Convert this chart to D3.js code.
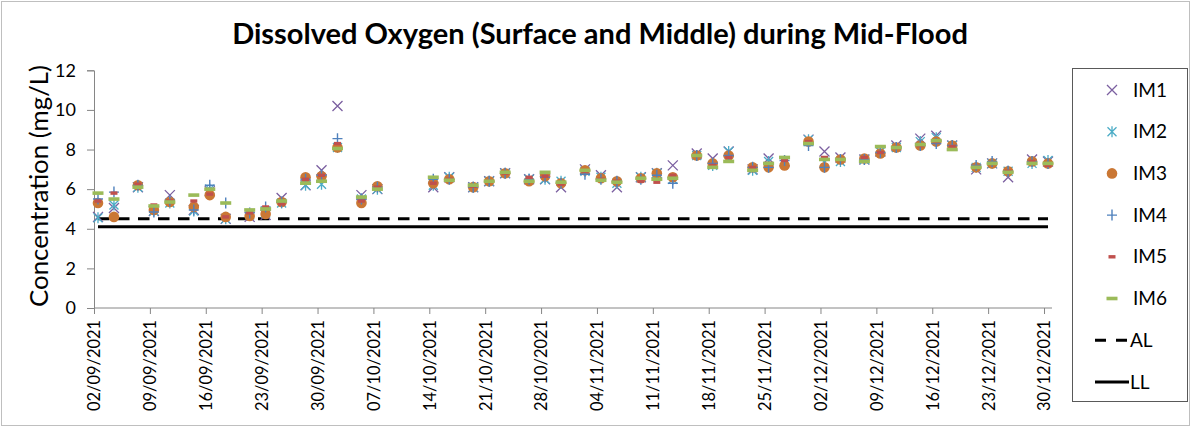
<!DOCTYPE html>
<html><head><meta charset="utf-8">
<script src="https://cdn.jsdelivr.net/npm/d3@7/dist/d3.min.js"></script>
<style>body{margin:0;background:#fff}svg{display:block}text{font-family:Lato,"Open Sans",sans-serif}</style>
</head><body><svg id="c" width="1192" height="428"></svg>
<script>
const dates = ["02/09/2021","04/09/2021","07/09/2021","09/09/2021","11/09/2021","14/09/2021","16/09/2021","18/09/2021","21/09/2021","23/09/2021","25/09/2021","28/09/2021","30/09/2021","02/10/2021","05/10/2021","07/10/2021","14/10/2021","16/10/2021","19/10/2021","21/10/2021","23/10/2021","26/10/2021","28/10/2021","30/10/2021","02/11/2021","04/11/2021","06/11/2021","09/11/2021","11/11/2021","13/11/2021","16/11/2021","18/11/2021","20/11/2021","23/11/2021","25/11/2021","27/11/2021","30/11/2021","02/12/2021","04/12/2021","07/12/2021","09/12/2021","11/12/2021","14/12/2021","16/12/2021","18/12/2021","21/12/2021","23/12/2021","25/12/2021","28/12/2021","30/12/2021"];
const IM1 = [4.6,5.05,6.1,4.9,5.7,4.95,5.9,4.5,4.6,4.7,5.55,6.2,6.95,10.2,5.7,6.0,6.1,6.6,6.1,6.4,6.8,6.5,6.5,6.1,7.0,6.7,6.1,6.6,6.8,7.2,7.8,7.55,7.9,7.0,7.55,7.4,8.5,7.9,7.6,7.5,7.9,8.2,8.55,8.7,8.2,7.0,7.3,6.6,7.5,7.4];
const IM2 = [4.55,5.2,6.1,4.9,5.3,4.9,6.0,4.5,4.7,4.8,5.3,6.2,6.25,8.1,5.5,6.0,6.2,6.6,6.1,6.4,6.8,6.5,6.5,6.4,6.9,6.6,6.3,6.6,6.8,6.5,7.7,7.2,7.9,6.95,7.4,7.4,8.5,7.35,7.4,7.5,7.9,8.1,8.4,8.6,8.2,7.1,7.3,6.9,7.3,7.45];
const IM3 = [5.3,4.6,6.2,4.95,5.35,5.1,5.7,4.6,4.65,4.75,5.35,6.6,6.65,8.1,5.3,6.15,6.3,6.5,6.1,6.4,6.8,6.4,6.65,6.3,6.95,6.55,6.4,6.55,6.8,6.6,7.7,7.3,7.7,7.1,7.1,7.2,8.4,7.1,7.5,7.55,7.8,8.1,8.2,8.4,8.2,7.1,7.3,6.9,7.4,7.3];
const IM4 = [5.5,5.85,6.2,4.85,5.4,4.95,6.2,5.3,4.8,5.1,5.35,6.5,6.7,8.55,5.5,6.1,6.5,6.5,6.1,6.4,6.8,6.5,6.6,6.3,6.75,6.5,6.4,6.5,6.7,6.3,7.7,7.3,7.7,7.1,7.1,7.45,8.2,7.1,7.5,7.5,7.85,8.1,8.2,8.3,8.2,7.2,7.4,6.9,7.4,7.3];
const IM5 = [5.4,5.8,6.25,5.2,5.4,5.4,5.75,4.6,4.8,5.1,5.25,6.5,6.7,8.3,5.4,6.1,6.3,6.5,6.15,6.4,6.8,6.6,6.65,6.25,6.9,6.5,6.4,6.4,6.35,6.7,7.7,7.2,7.6,7.1,7.3,7.45,8.4,7.6,7.5,7.6,7.85,8.1,8.2,8.4,8.15,7.1,7.3,6.9,7.4,7.2];
const IM6 = [5.8,5.5,6.1,5.15,5.35,5.7,6.0,5.3,4.95,5.0,5.4,6.3,6.4,8.05,5.6,6.0,6.6,6.45,6.2,6.4,6.85,6.4,6.85,6.35,6.95,6.45,6.35,6.55,6.5,6.55,7.7,7.1,7.4,6.95,7.3,7.6,8.3,7.5,7.5,7.4,8.15,8.1,8.25,8.45,8.0,7.1,7.3,6.85,7.3,7.3];
const AL = 4.5;
const LL = 4.1;
const yTicks = [0,2,4,6,8,10,12];
const xTickLabels = ["02/09/2021","09/09/2021","16/09/2021","23/09/2021","30/09/2021","07/10/2021","14/10/2021","21/10/2021","28/10/2021","04/11/2021","11/11/2021","18/11/2021","25/11/2021","02/12/2021","09/12/2021","16/12/2021","23/12/2021","30/12/2021"];
const seriesNames = ["IM1","IM2","IM3","IM4","IM5","IM6"];
const seriesVals = [IM1,IM2,IM3,IM4,IM5,IM6];
const colors = ["#7B5FA0","#4BACC6","#CA7734","#4F81BD","#C0504D","#9BBB59"];

const parse = d3.utcParse("%d/%m/%Y");
const DAY = 864e5;
const svg = d3.select("#c");
const L=94, R=1052, T=70.3, B=308;
const x = d3.scaleUtc().domain([parse("02/09/2021"), new Date(+parse("30/12/2021")+DAY)]).range([L,R]);
const y = d3.scaleLinear().domain([0,12]).range([B,T]);
const px = s => x(new Date(+parse(s)+DAY/2));

function fit(sel, w){ const n=sel.node(); const fs=parseFloat(sel.attr("font-size")); const l=n.getComputedTextLength(); sel.attr("font-size", fs*w/l); }

svg.append("rect").attr("x",1.5).attr("y",1.5).attr("width",1188).attr("height",424).attr("fill","none").attr("stroke","#bfbfbf");

const title = svg.append("text").attr("x",600).attr("y",44).attr("text-anchor","middle").attr("font-weight","bold").attr("font-size",26).attr("fill","#000").text("Dissolved Oxygen (Surface and Middle) during Mid-Flood");
fit(title,736);

const ya = svg.append("g").attr("transform",`translate(${L},0)`).call(d3.axisLeft(y).tickValues(yTicks).tickSize(7).tickPadding(11).tickFormat(d3.format("d")));
ya.select(".domain").attr("stroke","#868686");
ya.selectAll(".tick line").attr("stroke","#868686");
ya.selectAll(".tick text").attr("font-size",18).attr("fill","#000").style("font-family","Lato");

const xa = svg.append("g").attr("transform",`translate(0,${B})`).call(d3.axisBottom(x).tickValues(xTickLabels.map(parse)).tickSize(6).tickFormat(d3.utcFormat("%d/%m/%Y")));
xa.select(".domain").attr("stroke","#868686").attr("d",`M${L},0H${R}`);
xa.selectAll(".tick line").attr("stroke","#868686");
xa.selectAll(".tick text").attr("font-size",17).attr("fill","#000").style("font-family","Lato")
  .attr("transform","rotate(-90)").attr("text-anchor","end").attr("x",-12).attr("y",0).attr("dy","0.36em");
xa.selectAll(".tick text").each(function(){ fit(d3.select(this),91); });

const yl = svg.append("text").attr("transform","translate(39,186) rotate(-90)").attr("text-anchor","middle").attr("dy","0.35em").attr("font-size",22).attr("fill","#000").text("Concentration (mg/L)");
fit(yl,242);

const xs = dates.map(px);
const line = d3.line().x(d=>d[0]).y(d=>d[1]);
svg.append("path").attr("d",line(xs.map(v=>[v,y(AL)]))).attr("stroke","#000").attr("stroke-width",3).attr("stroke-dasharray","11.5,8.5").attr("fill","none");
svg.append("path").attr("d",line(xs.map(v=>[v,y(LL)]))).attr("stroke","#000").attr("stroke-width",3).attr("fill","none");

function marker(g, i, cx, cy){
  const c = colors[i];
  if(i===0){ g.append("path").attr("d",`M${cx-5},${cy-5}L${cx+5},${cy+5}M${cx-5},${cy+5}L${cx+5},${cy-5}`).attr("stroke",c).attr("stroke-width",1.3); }
  else if(i===1){ g.append("path").attr("d",`M${cx-4.5},${cy-4.5}L${cx+4.5},${cy+4.5}M${cx-4.5},${cy+4.5}L${cx+4.5},${cy-4.5}M${cx},${cy-5.5}L${cx},${cy+5.5}`).attr("stroke",c).attr("stroke-width",1.3); }
  else if(i===2){ g.append("circle").attr("cx",cx).attr("cy",cy).attr("r",5.3).attr("fill",c); }
  else if(i===3){ g.append("path").attr("d",`M${cx-5},${cy}L${cx+5},${cy}M${cx},${cy-5.5}L${cx},${cy+5.5}`).attr("stroke",c).attr("stroke-width",1.4); }
  else if(i===4){ g.append("rect").attr("x",cx-3.5).attr("y",cy-1.7).attr("width",7).attr("height",3.4).attr("fill",c); }
  else { g.append("rect").attr("x",cx-5.5).attr("y",cy-1.8).attr("width",11).attr("height",3.6).attr("fill",c); }
}
const mg = svg.append("g");
seriesVals.forEach((vals,i)=>{
  const g = mg.append("g");
  vals.forEach((v,j)=> marker(g,i,px(dates[j]),y(v)));
});

const lg = svg.append("g");
lg.append("rect").attr("x",1072.5).attr("y",68.5).attr("width",115).attr("height",333).attr("fill","#fff").attr("stroke","#595959");
const ly = d3.range(8).map(k=>90+k*41.7);
seriesNames.forEach((n,i)=>{
  marker(lg,i,1112,ly[i]);
  lg.append("text").attr("x",1133).attr("y",ly[i]).attr("dy","0.35em").attr("font-size",19).attr("fill","#000").text(n);
});
lg.append("line").attr("x1",1095).attr("x2",1127).attr("y1",ly[6]).attr("y2",ly[6]).attr("stroke","#000").attr("stroke-width",3).attr("stroke-dasharray","11,10");
lg.append("text").attr("x",1130).attr("y",ly[6]).attr("dy","0.35em").attr("font-size",19).attr("fill","#000").text("AL");
lg.append("line").attr("x1",1095).attr("x2",1129).attr("y1",ly[7]).attr("y2",ly[7]).attr("stroke","#000").attr("stroke-width",3);
lg.append("text").attr("x",1130).attr("y",ly[7]).attr("dy","0.35em").attr("font-size",19).attr("fill","#000").text("LL");
</script></body></html>
